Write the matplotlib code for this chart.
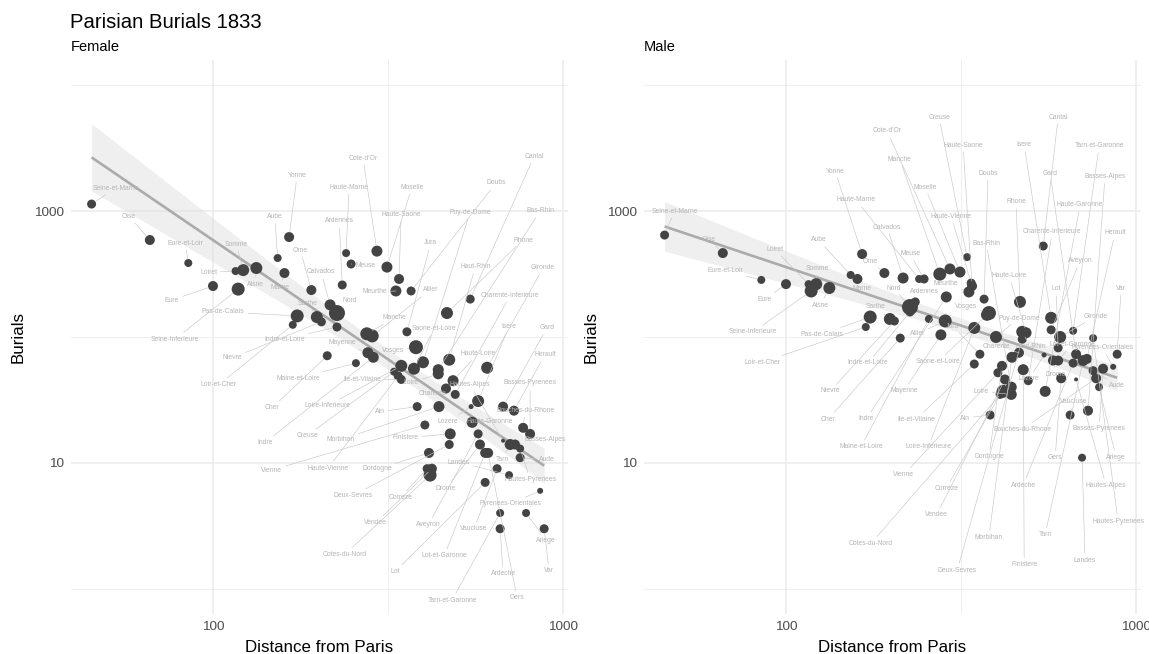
import numpy as np
import matplotlib
matplotlib.use("Agg")
import matplotlib.pyplot as plt
from matplotlib.ticker import FixedLocator, FixedFormatter, NullFormatter

plt.rcParams['font.family'] = ['Liberation Sans', 'DejaVu Sans']

departments = [
    "Seine-et-Marne", "Oise", "Eure-et-Loir", "Eure", "Loiret", "Seine-Inferieure", "Somme", "Aisne",
    "Aube", "Marne", "Yonne", "Loir-et-Cher", "Pas-de-Calais", "Orne", "Sarthe", "Nievre", "Cher",
    "Calvados", "Nord", "Indre-et-Loire", "Ardennes", "Haute-Marne", "Meuse", "Maine-et-Loire",
    "Manche", "Allier", "Mayenne", "Indre", "Cote-d'Or", "Moselle", "Creuse", "Meurthe",
    "Haute-Saone", "Ile-et-Vilaine", "Loire-Inferieure", "Jura", "Doubs", "Saone-et-Loire",
    "Vosges", "Ain", "Puy-de-Dome", "Vienne", "Dordogne", "Cotes-du-Nord", "Bas-Rhin", "Loire",
    "Morbihan", "Charente", "Haut-Rhin", "Haute-Loire", "Deux-Sevres", "Finistere",
    "Charente-Inferieure", "Cantal", "Lozere", "Haute-Garonne", "Isere", "Aveyron", "Drome",
    "Lot-et-Garonne", "Lot", "Gironde", "Gers", "Vaucluse", "Tarn-et-Garonne", "Ardeche", "Gard",
    "Hautes-Alpes", "Landes", "Tarn", "Herault", "Basses-Alpes", "Hautes-Pyrenees", "Aude",
    "Bouches-du-Rhone", "Ariege", "Basses-Pyrenees", "Pyrenees-Orientales", "Var", "Haute-Vienne",
    "Vendee", "Correze", "Rhone",
]

distance = [45, 66, 85, 100, 116, 118, 122, 133, 153, 160, 165, 169, 174, 191, 198, 204, 212,
            216, 226, 226, 234, 240, 248, 256, 275, 285, 277, 287, 294, 314, 329, 333, 340, 345,
            345, 358, 368, 375, 380, 383, 398, 403, 414, 417, 440, 440, 442, 463, 473, 485, 473,
            476, 492, 543, 546, 550, 572, 572, 579, 599, 599, 607, 611, 648, 661, 661, 674, 674,
            701, 706, 724, 729, 754, 754, 769, 784, 805, 860, 883, 338, 422, 409, 466]

female_burials = [1137, 589, 387, 254, 334, 240, 340, 353, 424, 322, 622, 125, 147, 236, 144, 132,
                  71, 180, 155, 120, 259, 464, 380, 62, 106, 102, 75, 69, 481, 359, 53, 232, 289,
                  46, 59, 110, 232, 56, 83, 28, 63, 20, 12, 8, 55, 51, 28, 39, 66, 45, 14, 17, 35,
                  200, 28, 21, 31, 17, 14, 12, 7, 57, 12, 9, 4, 3, 28, 15, 8, 14, 26, 14, 13, 11,
                  19, 4, 17, 6, 3, 49, 9, 9, 155]

male_burials = [645, 464, 284, 263, 263, 232, 263, 245, 311, 289, 456, 120, 144, 322, 139, 134, 98,
                294, 173, 158, 190, 289, 289, 139, 316, 134, 104, 208, 347, 328, 431, 228, 254, 61,
                118, 73, 200, 150, 155, 24, 100, 52, 59, 37, 40, 35, 69, 75, 110, 108, 96, 55, 45,
                528, 72, 37, 142, 114, 65, 65, 82, 100, 47, 24, 112, 62, 73, 46, 11, 65, 67, 26, 98,
                54, 47, 40, 56, 58, 73, 268, 46, 35, 190]

# population (thousands) -> point size
population = [279, 345, 226, 345, 226, 614, 512, 512, 226, 345, 345, 226, 614, 345, 512, 279, 279,
              423, 990, 279, 279, 226, 279, 226, 614, 614, 423, 423, 423, 423, 226, 423, 345, 279,
              512, 279, 279, 512, 727, 279, 512, 279, 345, 614, 423, 423, 423, 345, 512, 423, 279,
              423, 279, 279, 136, 423, 512, 279, 345, 345, 279, 512, 345, 279, 226, 279, 345, 130,
              226, 423, 345, 345, 226, 279, 345, 226, 345, 154, 279, 279, 345, 279, 512]

# label offsets (pixels) from each point, female panel
female_label_dx = [24, -21, -3, -41, -27, -63, -7, -1, -3, -4, 8, -74, -74, -11, -9, -89, -55, -9,
                   13, -52, -3, 3, 14, -58, 28, 58, -26, -108, -14, 25, -87, -21, 2, -39, -74, 24,
                   85, 20, -23, -37, 47, -153, -52, -85, 102, -27, -98, -13, 26, 25, -96, -45, 55,
                   64, -23, 18, 31, -50, -34, -41, -90, 56, 29, -23, -48, 3, 44, -33, -50, -8, 31,
                   30, 10, 27, 2, 20, 0, -30, 5, -70, -56, -27, 76]
female_label_dy = [16, 24, 20, -14, -1, -50, 26, -16, 42, -14, 62, -60, 4, 40, 14, -36, -52, 33,
                   13, -12, 64, 66, -2, -15, 16, 46, 10, -85, 93, 80, -64, -1, 64, 0, -40, 89, 108,
                   40, -3, -5, 150, -45, -16, -79, 159, -9, -33, -5, 93, 27, -51, -4, 99, 143, -15,
                   1, 75, -91, -44, -103, -89, 100, -145, -60, -87, -45, 79, 56, 13, -15, 56, 5,
                   -31, -2, 17, -27, 51, -13, -42, -92, -54, -29, 73]
# label offsets (pixels) from each point, male panel
male_label_dx = [10, -14, -36, -21, -34, -58, 1, -9, -32, 5, -27, -103, -48, -14, -14, -64, -72,
                 -16, -16, -42, 9, -63, -14, -68, -40, -28, -37, -80, -63, -35, -28, -23, -9, -58,
                 -46, -27, 4, -49, -23, -25, 23, -94, -13, -132, -25, -30, -23, -22, 8, -17, -65,
                 1, 24, 15, -15, 35, -27, 29, 3, 14, -2, 36, -6, 4, 26, -50, -26, 30, 3, -38, 28,
                 17, 25, 24, -74, 17, -4, -11, 4, -20, -68, -54, -4]
male_label_dy = [24, 14, 9, -15, 35, -41, 16, -17, 35, -10, 83, -35, -17, 12, 12, -70, -81, 51,
                 19, -51, 10, 79, 25, -128, 115, -13, -56, -122, 138, 85, 140, 8, 141, -55, -119,
                 28, 126, -47, 7, -3, 19, -102, -91, -152, 144, 3, -180, 6, -15, 57, -231, -195,
                 149, 129, -24, 187, 173, 69, -14, 16, 59, 21, -79, 14, 185, -122, 181, -106, -103,
                 -174, 126, 234, -183, -15, -51, -70, -60, 19, 66, 67, -135, -94, 100]

W, H = 1149, 654
fig = plt.figure(figsize=(W / 100, H / 100), dpi=100)

POINT_COL = '#434343'
LABEL_COL = '#b5b5b5'
SEG_COL = '#c9c9c9'
GRID_COL = '#ebebeb'

pop = np.array(population, float)
radius_px = 2.0 + 6.0 * np.sqrt((pop - pop.min()) / (pop.max() - pop.min()))
sizes = (2 * radius_px * 0.72) ** 2


def draw_panel(ax, burials, ldx, ldy, subtitle):
    x = np.array(distance, float)
    y = np.array(burials, float)
    lx, ly = np.log10(x), np.log10(y)
    n = len(lx)
    b1, b0 = np.polyfit(lx, ly, 1)
    resid = ly - (b0 + b1 * lx)
    s = np.sqrt(np.sum(resid ** 2) / (n - 2))
    g = np.linspace(lx.min(), lx.max(), 100)
    se = s * np.sqrt(1.0 / n + (g - lx.mean()) ** 2 / np.sum((lx - lx.mean()) ** 2))
    fit = b0 + b1 * g
    t = 1.99
    ax.fill_between(10 ** g, 10 ** (fit - t * se), 10 ** (fit + t * se),
                    color='#dcdcdc', alpha=0.45, lw=0, zorder=1)
    ax.plot(10 ** g, 10 ** fit, color='#ababab', lw=1.9, zorder=2, solid_capstyle='butt')
    ax.scatter(x, y, s=sizes, color=POINT_COL, lw=0, zorder=3)

    for i, name in enumerate(departments):
        dx, dy = ldx[i], ldy[i]
        props = None
        if np.hypot(dx, dy) > 14:
            props = dict(arrowstyle='-', color=SEG_COL, lw=0.45,
                         shrinkA=0.5, shrinkB=radius_px[i] * 0.72)
        ax.annotate(name, xy=(x[i], y[i]), xytext=(dx, dy), textcoords='offset pixels',
                    ha='center', va='center', fontsize=4.9, color=LABEL_COL,
                    arrowprops=props, zorder=5, annotation_clip=False)

    ax.set_xscale('log')
    ax.set_yscale('log')
    ax.set_xlim(39.3, 1033)
    ax.set_ylim(10 ** -0.2, 10 ** 4.2)
    ax.xaxis.set_major_locator(FixedLocator([100, 1000]))
    ax.xaxis.set_major_formatter(FixedFormatter(['100', '1000']))
    ax.xaxis.set_minor_locator(FixedLocator([10 ** 2.5]))
    ax.xaxis.set_minor_formatter(NullFormatter())
    ax.yaxis.set_major_locator(FixedLocator([10, 1000]))
    ax.yaxis.set_major_formatter(FixedFormatter(['10', '1000']))
    ax.yaxis.set_minor_locator(FixedLocator([1, 100, 10000]))
    ax.yaxis.set_minor_formatter(NullFormatter())
    ax.grid(which='major', color=GRID_COL, lw=1.1, zorder=0)
    ax.grid(which='minor', color=GRID_COL, lw=0.55, zorder=0)
    ax.set_axisbelow(True)
    ax.tick_params(which='both', length=0, labelsize=9.7, labelcolor='#4d4d4d', pad=5)
    for sp in ax.spines.values():
        sp.set_visible(False)
    ax.set_xlabel('Distance from Paris', fontsize=12.2, labelpad=5)
    ax.set_ylabel('Burials', fontsize=12.2, labelpad=6)
    pos = ax.get_position()
    fig.text(pos.x0, 1 - 47 / H, subtitle, fontsize=10.5, ha='left', va='center')


ax1 = fig.add_axes([71 / W, 40 / H, 497 / W, 554 / H])
ax2 = fig.add_axes([644 / W, 40 / H, 497 / W, 554 / H])
draw_panel(ax1, female_burials, female_label_dx, female_label_dy, 'Female')
draw_panel(ax2, male_burials, male_label_dx, male_label_dy, 'Male')

fig.text(70 / W, 1 - 22 / H, 'Parisian Burials 1833', fontsize=14.6, ha='left', va='center')

fig.savefig('out.png', dpi=100)
